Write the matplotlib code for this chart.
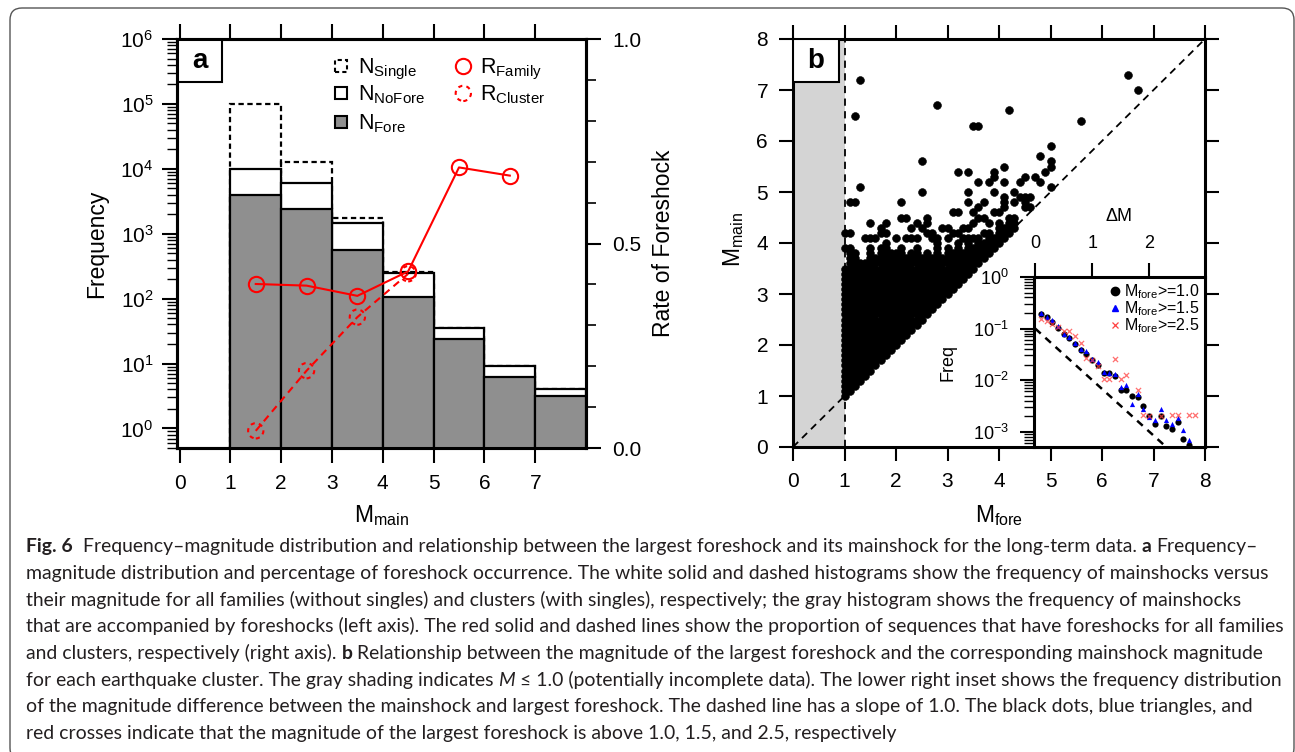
import numpy as np
import matplotlib
matplotlib.use('Agg')
import matplotlib.pyplot as plt
from matplotlib.patches import Rectangle, FancyBboxPatch
from matplotlib.lines import Line2D
from matplotlib.ticker import MultipleLocator, NullLocator, LogLocator
from matplotlib.transforms import IdentityTransform

plt.rcParams['font.family'] = ['Liberation Sans', 'DejaVu Sans']
plt.rcParams['axes.linewidth'] = 2.2

# panel a: histograms (left axis) and foreshock rates (right axis)
bin_left = [1, 2, 3, 4, 5, 6, 7]
n_single = [100000, 12600, 1740, 254, 35.5, 9.1, 4.1]
n_nofore = [10000, 6000, 1460, 252, 35.5, 9.1, 4.1]
n_fore = [3980, 2400, 568, 106, 24.3, 6.2, 3.14]
r_family_x = [1.5, 2.5, 3.5, 4.5, 5.5, 6.5]
r_family = [0.401, 0.397, 0.372, 0.432, 0.686, 0.666]
r_cluster_x = [1.5, 2.5, 3.5, 4.5]
r_cluster = [0.042, 0.189, 0.320, 0.426]
mag_ticks_a = [0, 1, 2, 3, 4, 5, 6, 7]
rate_ticks = [0.0, 0.5, 1.0]
rate_labels = ['0.0', '0.5', '1.0']

# panel b: largest foreshock vs mainshock magnitude
# dense block: every 0.1 step from the diagonal up to the column top is filled
dense_x = [1.0, 1.1, 1.2, 1.3, 1.4, 1.5, 1.6, 1.7, 1.8, 1.9, 2.0, 2.1, 2.2, 2.3, 2.4, 2.5, 2.6,
           2.7, 2.8, 2.9, 3.0, 3.1, 3.2, 3.3, 3.4, 3.5, 3.6, 3.7, 3.8, 3.9, 4.0, 4.1, 4.2, 4.3]
dense_top = [3.5, 3.9, 3.8, 3.6, 3.6, 3.9, 3.7, 3.9, 4.0, 3.8, 3.8, 3.9, 3.7, 3.8, 3.9, 3.7, 3.8,
             3.7, 4.0, 3.7, 3.9, 3.8, 4.0, 3.8, 4.0, 3.9, 4.1, 4.0, 4.2, 4.1, 4.3, 4.3, 4.4, 4.4]
sparse_pts = [(1.3, 7.2), (1.2, 6.5), (2.8, 6.7), (4.2, 6.6), (3.5, 6.3), (3.6, 6.3), (5.6, 6.4),
              (6.5, 7.3), (6.7, 7.0), (5.0, 5.9), (4.8, 5.7), (5.0, 5.6), (5.0, 5.5), (2.5, 5.6),
              (3.2, 5.4), (3.4, 5.4), (3.9, 5.4), (4.1, 5.5), (3.9, 5.3), (4.9, 5.4), (4.5, 5.3),
              (4.4, 5.2), (4.7, 5.3), (4.8, 5.2), (5.0, 5.1), (4.1, 5.2), (3.6, 5.2), (3.8, 5.2),
              (1.3, 5.1), (2.5, 5.0), (3.4, 5.0), (3.9, 5.0), (4.3, 5.0), (4.3, 4.8), (4.4, 4.9),
              (4.5, 4.9), (4.6, 4.9), (4.5, 4.8), (4.6, 4.7), (4.5, 4.7), (4.3, 4.5), (4.1, 4.9),
              (4.1, 4.8), (4.1, 4.7), (3.7, 4.8), (3.4, 4.8), (3.6, 4.7), (1.1, 4.8), (1.2, 4.8),
              (2.1, 4.8), (2.1, 4.5), (2.2, 4.5), (3.1, 4.6), (3.2, 4.6), (3.5, 4.6), (3.6, 4.5),
              (3.7, 4.5), (3.9, 4.6), (4.0, 4.6), (4.2, 4.5), (4.0, 4.4), (2.6, 4.5), (1.0, 4.2),
              (1.1, 4.2), (1.5, 4.4), (2.4, 4.4), (2.5, 4.3), (2.6, 4.4), (1.7, 4.3), (1.8, 4.4),
              (1.7, 4.2), (1.8, 4.2), (2.3, 4.3), (2.9, 4.3), (3.0, 4.3), (3.3, 4.3), (3.4, 4.3),
              (3.5, 4.4), (3.8, 4.4), (1.4, 4.1), (1.5, 4.1), (1.6, 4.1), (2.0, 4.1), (2.2, 4.1),
              (2.3, 4.1), (2.4, 4.1), (2.6, 4.2), (2.7, 4.2), (3.1, 4.2), (3.2, 4.2), (3.7, 4.2),
              (1.0, 3.9), (2.7, 4.1), (2.8, 4.1), (3.0, 4.1), (3.3, 4.1), (3.4, 4.1), (3.5, 4.1)]
mag_ticks_b = [0, 1, 2, 3, 4, 5, 6, 7, 8]
diag = [0, 8]

# inset: frequency of magnitude difference
dm_10 = [0.1, 0.2, 0.3, 0.4, 0.5, 0.6, 0.7, 0.8, 0.9, 1.0, 1.1, 1.2, 1.3, 1.4,
         1.5, 1.6, 1.7, 1.8, 1.9, 2.0, 2.1, 2.2, 2.3, 2.4, 2.5, 2.6, 2.7]
freq_10 = [0.195, 0.167, 0.134, 0.104, 0.079, 0.066, 0.049, 0.039, 0.032, 0.025, 0.020, 0.0138,
           0.0138, 0.0120, 0.0065, 0.0065, 0.0049, 0.0047, 0.0032, 0.0020, 0.0014, 0.0020,
           0.0013, 0.0011, 0.0015, 0.00072, 0.00056]
dm_15 = dm_10
freq_15 = [0.20, 0.17, 0.148, 0.11, 0.079, 0.069, 0.052, 0.040, 0.036, 0.026, 0.022, 0.0144,
           0.0138, 0.013, 0.0073, 0.0081, 0.0035, 0.0053, 0.0028, 0.0019, 0.0017, 0.0028,
           0.00165, 0.0014, 0.0018, 0.00105, 0.0007]
dm_25 = [0.1, 0.2, 0.3, 0.4, 0.5, 0.6, 0.7, 0.8, 0.9, 1.0, 1.1, 1.2, 1.3, 1.4, 1.5, 1.6,
         1.8, 1.9, 2.0, 2.2, 2.4, 2.5, 2.7, 2.8]
freq_25 = [0.151, 0.138, 0.125, 0.107, 0.088, 0.089, 0.071, 0.052, 0.027, 0.024, 0.019, 0.0107,
           0.0107, 0.0257, 0.0107, 0.0126, 0.0063, 0.0021, 0.0020, 0.0020, 0.0021, 0.0021,
           0.0021, 0.0021]
ref_dm = [0, 3]
ref_freq = [1e-1, 1e-4]

# caption: (text, kind, spaces after) with kind n=normal, b=bold, i=italic
caption_lines = [
    [('Fig. 6', 'b', 2),
     ('Frequency–magnitude distribution and relationship between the largest foreshock and its mainshock for the long-term data.', 'n', 1),
     ('a', 'b', 1), ('Frequency–', 'n', 0)],
    [('magnitude distribution and percentage of foreshock occurrence. The white solid and dashed histograms show the frequency of mainshocks versus', 'n', 0)],
    [('their magnitude for all families (without singles) and clusters (with singles), respectively; the gray histogram shows the frequency of mainshocks', 'n', 0)],
    [('that are accompanied by foreshocks (left axis). The red solid and dashed lines show the proportion of sequences that have foreshocks for all families', 'n', 0)],
    [('and clusters, respectively (right axis).', 'n', 1), ('b', 'b', 1),
     ('Relationship between the magnitude of the largest foreshock and the corresponding mainshock magnitude', 'n', 0)],
    [('for each earthquake cluster. The gray shading indicates', 'n', 1), ('M', 'i', 1),
     ('≤ 1.0 (potentially incomplete data). The lower right inset shows the frequency distribution', 'n', 0)],
    [('of the magnitude difference between the mainshock and largest foreshock. The dashed line has a slope of 1.0. The black dots, blue triangles, and', 'n', 0)],
    [('red crosses indicate that the magnitude of the largest foreshock is above 1.0, 1.5, and 2.5, respectively', 'n', 0)],
]
caption_y = [547.3, 574.0, 600.7, 627.3, 654.0, 680.7, 707.3, 734.0]

W, H = 1295, 752
fig = plt.figure(figsize=(W / 100, H / 100), dpi=100)


def px_axes(left, top, right, bottom):
    return fig.add_axes([left / W, 1 - bottom / H, (right - left) / W, (bottom - top) / H])


def fy(y):
    return 1 - y / H


# ---------------- panel a ----------------
ax = px_axes(177, 39, 586, 448)
ax.set_yscale('log')
ax.set_xlim(-0.05, 8)
ax.set_ylim(0.5, 1e6)
ax.bar(bin_left, n_single, width=1, align='edge', bottom=0.01, fill=False,
       edgecolor='black', linestyle=(0, (2.4, 1.6)), linewidth=1.6, zorder=1)
ax.bar(bin_left, n_nofore, width=1, align='edge', bottom=0.01, facecolor='white',
       edgecolor='black', linewidth=1.6, zorder=2)
ax.bar(bin_left, n_fore, width=1, align='edge', bottom=0.01, facecolor='#8f8f8f',
       edgecolor='black', linewidth=1.6, zorder=3)
ax.set_xticks(mag_ticks_a)
ax.xaxis.set_minor_locator(NullLocator())
ax.yaxis.set_major_locator(LogLocator(base=10, numticks=12))
ax.yaxis.set_minor_locator(LogLocator(base=10, subs=np.arange(2, 10), numticks=12))
ax.tick_params(axis='x', which='major', direction='out', length=11, width=1.5, top=True,
               labelsize=15, pad=8)
ax.tick_params(axis='y', which='major', direction='out', length=11, width=1.5,
               labelsize=15, pad=6)
ax.tick_params(axis='y', which='minor', direction='out', length=7, width=1.0)

ax2 = ax.twinx()
ax2.set_ylim(0, 1)
ax2.plot(r_family_x, r_family, color='red', lw=1.5, marker='o', ms=11, mfc='none',
         mec='red', mew=1.5)
ax2.plot(r_cluster_x, r_cluster, color='red', lw=1.5, ls=(0, (3.5, 2.5)))
ax2.scatter(r_cluster_x, r_cluster, s=11 ** 2, facecolors='none', edgecolors='red',
            linewidths=1.5, linestyles=(0, (2, 2)), zorder=4)
ax2.set_yticks(rate_ticks)
ax2.set_yticklabels(rate_labels)
ax2.yaxis.set_minor_locator(MultipleLocator(0.1))
ax2.tick_params(axis='y', which='major', direction='out', length=11, width=1.5,
                labelsize=15, pad=8)
ax2.tick_params(axis='y', which='minor', direction='out', length=7, width=1.2)

# legend of panel a
sq = 0.029
ax2.add_patch(Rectangle((0.400 - sq / 2, 0.934 - sq / 2), sq, sq, transform=ax2.transAxes,
                        fill=False, ec='black', lw=1.5, ls=(0, (2, 1.5))))
ax2.add_patch(Rectangle((0.400 - sq / 2, 0.867 - sq / 2), sq, sq, transform=ax2.transAxes,
                        fc='white', ec='black', lw=1.5))
ax2.add_patch(Rectangle((0.400 - sq / 2, 0.798 - sq / 2), sq, sq, transform=ax2.transAxes,
                        fc='#8f8f8f', ec='black', lw=1.5))
ax2.plot([0.700], [0.934], transform=ax2.transAxes, marker='o', ms=11, mfc='none',
         mec='red', mew=1.5, ls='none')
ax2.scatter([0.700], [0.867], transform=ax2.transAxes, s=11 ** 2, facecolors='none',
            edgecolors='red', linewidths=1.5, linestyles=(0, (2, 2)))
for x0, y0, lab in [(0.4425, 0.9156, r'N$_\mathregular{Single}$'),
                    (0.4425, 0.8489, r'N$_\mathregular{NoFore}$'),
                    (0.4425, 0.7795, r'N$_\mathregular{Fore}$'),
                    (0.741, 0.9156, r'R$_\mathregular{Family}$'),
                    (0.741, 0.8489, r'R$_\mathregular{Cluster}$')]:
    ax2.text(x0, y0, lab, transform=ax2.transAxes, fontsize=15.5, va='baseline')

ax.add_patch(Rectangle((0, 1 - 0.106), 0.110, 0.106, transform=ax.transAxes,
                       fc='white', ec='black', lw=1.5, zorder=6))
ax.text(0.055, 0.947, 'a', transform=ax.transAxes, fontsize=20, fontweight='bold',
        ha='center', va='center', zorder=7)

fig.text(97 / W, fy(243.5), 'Frequency', rotation=90, ha='center', va='center', fontsize=16.5)
fig.text(664 / W, fy(243.5), 'Rate of Foreshock', rotation=90, ha='center', va='center',
         fontsize=16.5)
fig.text(381.5 / W, fy(516), r'M$_\mathregular{main}$', ha='center', va='center', fontsize=16.5)

# ---------------- panel b ----------------
bx = px_axes(793, 39, 1205, 447)
bx.set_xlim(0, 8)
bx.set_ylim(0, 8)
bx.axvspan(0, 1, color='#d4d4d4', lw=0, zorder=0)
bx.plot(diag, diag, color='black', ls=(0, (4, 3)), lw=1.3, zorder=1)
bx.axvline(1, color='black', ls=(0, (4, 3)), lw=1.3, zorder=1)

pts_x, pts_y = [], []
for xv, top in zip(dense_x, dense_top):
    for yv in np.arange(xv, top + 0.001, 0.1):
        pts_x.append(xv)
        pts_y.append(round(yv, 1))
for xv, yv in sparse_pts:
    pts_x.append(xv)
    pts_y.append(yv)
bx.scatter(pts_x, pts_y, s=32, c='black', edgecolors='black', lw=0.4, zorder=2)

bx.set_xticks(mag_ticks_b)
bx.set_yticks(mag_ticks_b)
bx.tick_params(direction='out', length=10, width=1.5, top=True, right=True,
               labelsize=15, pad=8)
bx.add_patch(Rectangle((0, 1 - 0.105), 0.112, 0.105, transform=bx.transAxes,
                       fc='white', ec='black', lw=1.5, zorder=6))
bx.text(0.056, 0.947, 'b', transform=bx.transAxes, fontsize=20, fontweight='bold',
        ha='center', va='center', zorder=7)
fig.text(734 / W, fy(240), r'M$_\mathregular{main}$', rotation=90, ha='center', va='center',
         fontsize=16.5)
fig.text(999 / W, fy(516), r'M$_\mathregular{fore}$', ha='center', va='center', fontsize=16.5)

# ---------------- inset ----------------
ix = px_axes(1034, 277, 1205, 447)
ix.set_xlim(-0.02, 2.98)
ix.set_yscale('log')
ix.set_ylim(10 ** -3.3, 1)
ix.plot(ref_dm, ref_freq, color='black', ls=(0, (3, 2.5)), lw=1.8)
ix.scatter(dm_10, freq_10, s=20, c='black', lw=0, zorder=3)
ix.scatter(dm_15, freq_15, s=14, c='blue', marker='^', lw=0, zorder=4)
ix.scatter(dm_25, freq_25, s=14, c='#ff4040', marker='x', lw=0.9, alpha=0.75, zorder=5)
ix.xaxis.tick_top()
ix.xaxis.set_label_position('top')
ix.set_xticks([0, 1, 2])
ix.xaxis.set_minor_locator(NullLocator())
ix.yaxis.set_major_locator(LogLocator(base=10, numticks=10))
ix.yaxis.set_minor_locator(LogLocator(base=10, subs=np.arange(2, 10), numticks=10))
ix.tick_params(which='major', direction='out', length=10, width=1.5, labelsize=13, pad=8)
ix.tick_params(which='minor', direction='out', length=7, width=1.0)
ix.set_xlabel('ΔM', fontsize=13, labelpad=10)
fig.text(948 / W, fy(362), 'Freq', rotation=90, ha='center', va='center', fontsize=13)

h10 = Line2D([], [], ls='none', marker='o', ms=6, mfc='black', mec='black')
h15 = Line2D([], [], ls='none', marker='^', ms=4.5, mfc='blue', mec='blue')
h25 = Line2D([], [], ls='none', marker='x', ms=4.5, mec='#ff4040', mew=0.9)
ix.legend([h10, h15, h25],
          [r'M$_\mathregular{fore}$>=1.0', r'M$_\mathregular{fore}$>=1.5',
           r'M$_\mathregular{fore}$>=2.5'],
          loc='upper right', frameon=False, fontsize=11.5, handlelength=0.6,
          handletextpad=0.25, labelspacing=-0.1, borderaxespad=0.25, borderpad=0.1)

# ---------------- caption ----------------
renderer = fig.canvas.get_renderer()


def text_width(s, size, **kw):
    t = fig.text(0, 0, s, fontsize=size, family='Lato', **kw)
    w = t.get_window_extent(renderer).width
    t.remove()
    return w


cap_fs = 15 * 1245 / text_width(caption_lines[1][0][0], 15)
space_w = text_width('x x', cap_fs) - text_width('xx', cap_fs)
kinds = {'n': {}, 'b': {'fontweight': 'bold'}, 'i': {'fontstyle': 'italic'}}
for segs, yc in zip(caption_lines, caption_y):
    cursor = 26.0
    for txt, kind, n_sp in segs:
        t = fig.text(cursor / W, fy(yc + 5.0), txt, fontsize=cap_fs, family='Lato',
                     color='#231f20', va='baseline', ha='left', **kinds[kind])
        cursor += t.get_window_extent(renderer).width + n_sp * space_w

frame = FancyBboxPatch((10, -8), 1284, 752, boxstyle='round,pad=0,rounding_size=12',
                       transform=IdentityTransform(), fill=False, ec='#555555', lw=1.0)
fig.add_artist(frame)

fig.savefig('out.png', dpi=100)
